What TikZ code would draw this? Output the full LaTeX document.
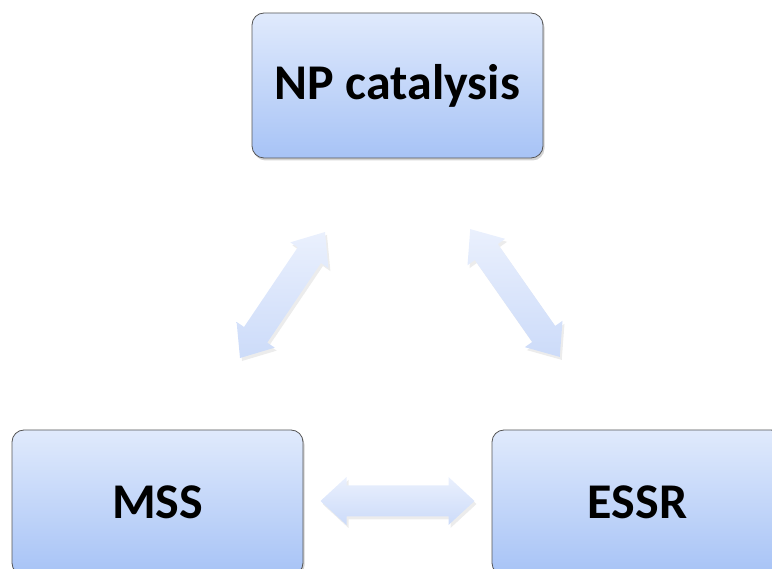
\documentclass[tikz,border=0pt]{standalone}
\usepackage{fontspec}
\setmainfont{Carlito}
\usetikzlibrary{shadows}
\definecolor{boxtop}{HTML}{E0EAFC}
\definecolor{boxbot}{HTML}{A7C3F6}
\definecolor{arrtop}{HTML}{EAF0FD}
\definecolor{arrbot}{HTML}{CCDBF9}
\definecolor{boxline}{HTML}{555555}
\tikzset{
  topic/.style={draw=boxline, line width=0.8pt, rounded corners=12pt,
    top color=boxtop, bottom color=boxbot,
    minimum width=291pt, minimum height=145pt, inner sep=0pt,
    font=\fontsize{50}{56}\selectfont\bfseries,
    drop shadow={opacity=0.35, shadow xshift=1.5pt, shadow yshift=-2.5pt}},
  blockarrow/.style={top color=arrtop, bottom color=arrbot, draw=none,
    drop shadow={opacity=0.15, shadow xshift=2pt, shadow yshift=-3pt}},
  pics/dblarrow/.style args={#1/#2/#3/#4}{code={
    \path[blockarrow] (-#1/2,0) -- (-#1/2+#4,#2/2) -- (-#1/2+#4,#3/2)
      -- (#1/2-#4,#3/2) -- (#1/2-#4,#2/2) -- (#1/2,0) -- (#1/2-#4,-#2/2)
      -- (#1/2-#4,-#3/2) -- (-#1/2+#4,-#3/2) -- (-#1/2+#4,-#2/2) -- cycle;
  }},
}
\begin{document}
\begin{tikzpicture}[x=1pt,y=1pt]
\useasboundingbox (0,0) rectangle (772,-569);
\begin{scope}
\clip (0,0) rectangle (772,-569);
\node[topic] (np) at (397.5,-85.5) {NP catalysis};
\node[topic] (mss) at (157.5,-502.5) {MSS};
\node[topic] (essr) at (637.5,-502.5) {ESSR};

\pic at (397.5,-501) {dblarrow={154/48/31/26}};
\pic[rotate=56] at (282.5,-295) {dblarrow={152/46/28/28}};
\pic[rotate=-55] at (515,-293) {dblarrow={156/46/28/28}};
\end{scope}
\end{tikzpicture}
\end{document}
